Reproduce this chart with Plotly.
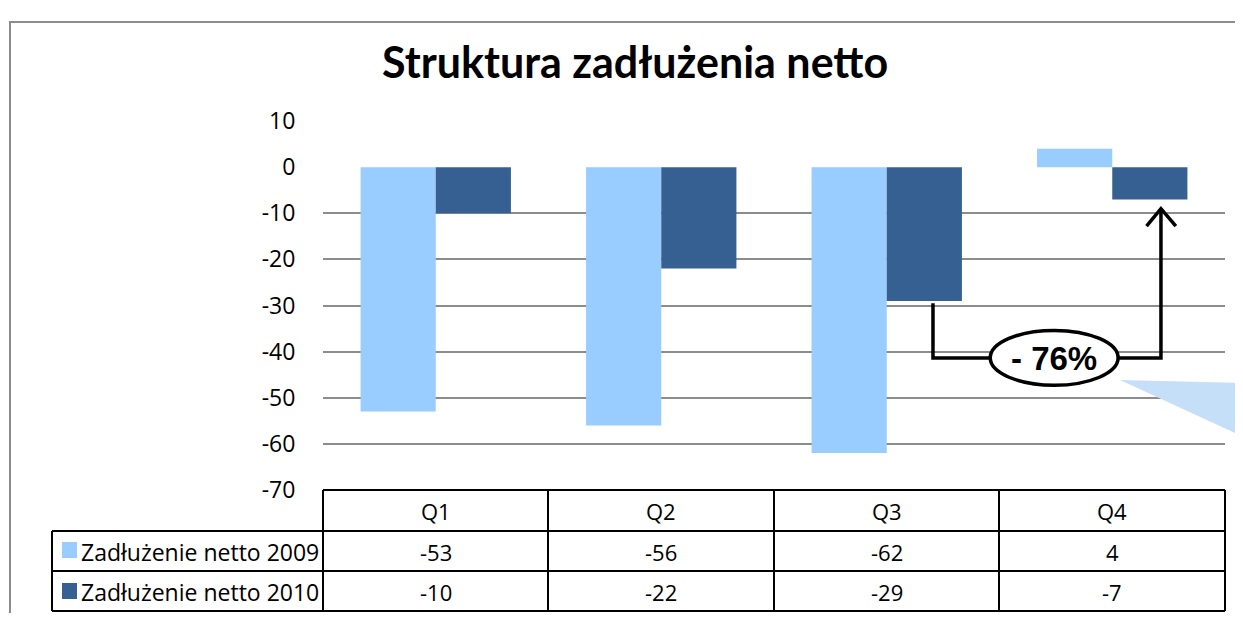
import plotly.graph_objects as go

categories = ["Q1", "Q2", "Q3", "Q4"]
v2009 = [-53, -56, -62, 4]
v2010 = [-10, -22, -29, -7]
name2009 = "Zadłużenie netto 2009"
name2010 = "Zadłużenie netto 2010"
ytick_vals = [10, 0, -10, -20, -30, -40, -50, -60, -70]
change_label = "- 76%"
title = "Struktura zadłużenia netto"

OFF = 8  # page body margin
W, H = 1243 - OFF, 621 - 2 * OFF
def px(x):
    return (x - OFF) / W
def py(y):
    return 1 - (y - OFF) / H

c2009 = "#99CCFF"
c2010 = "#376092"
grid = "#8C8C8C"

fig = go.Figure()
fig.add_bar(x=categories, y=v2009, name=name2009, marker_color=c2009, marker_line_width=0)
fig.add_bar(x=categories, y=v2010, name=name2010, marker_color=c2010, marker_line_width=0)

X0, X1 = 323, 1225
Y0, Y1 = 121, 490
fig.update_layout(
    width=W, height=H, autosize=False,
    margin=dict(l=0, r=0, t=0, b=0, pad=0),
    paper_bgcolor="white", plot_bgcolor="white",
    showlegend=False,
    barmode="group", bargap=1/3, bargroupgap=0,
    xaxis=dict(domain=[px(X0), px(X1)], range=[-0.5, 3.5], showticklabels=False,
               showgrid=False, zeroline=False, showline=False, fixedrange=True,
               automargin=False),
    yaxis=dict(domain=[py(Y1), py(Y0)], range=[-70, 10], tickvals=ytick_vals,
               ticktext=[str(v) for v in ytick_vals],
               showgrid=True, gridcolor=grid, gridwidth=2,
               zeroline=True, zerolinecolor="white", zerolinewidth=3,
               ticks="outside", ticklen=22, tickcolor="rgba(0,0,0,0)",
               tickfont=dict(family="Open Sans", size=23, color="black"),
               showline=False, fixedrange=True, automargin=False),
)

shapes = []
# outer frame
shapes.append(dict(type="path", xref="paper", yref="paper",
                   path=f"M {px(10)},{py(640)} L {px(10)},{py(22)} L {px(1260)},{py(22)}",
                   line=dict(color="#8C8C8C", width=2)))

# data table
col_x = [323, 548, 774, 999, 1225]
row_y = [490, 531, 571, 611]
tl = dict(color="black", width=2)
shapes.append(dict(type="line", xref="paper", yref="paper", x0=px(323), x1=px(1225), y0=py(490), y1=py(490), line=tl))
for ry in row_y[1:]:
    shapes.append(dict(type="line", xref="paper", yref="paper", x0=px(52), x1=px(1225), y0=py(ry), y1=py(ry), line=tl))
for cx in col_x:
    shapes.append(dict(type="line", xref="paper", yref="paper", x0=px(cx), x1=px(cx), y0=py(490), y1=py(611), line=tl))
shapes.append(dict(type="line", xref="paper", yref="paper", x0=px(52), x1=px(52), y0=py(531), y1=py(611), line=tl))
# legend keys
for color, yc in [(c2009, 550), (c2010, 591)]:
    shapes.append(dict(type="rect", xref="paper", yref="paper", x0=px(62), x1=px(77),
                       y0=py(yc - 8), y1=py(yc + 8), fillcolor=color, line=dict(width=0)))

# light blue callout wedge
shapes.append(dict(type="path", xref="paper", yref="paper",
                   path=f"M {px(1120)},{py(380)} L {px(1250)},{py(383)} L {px(1250)},{py(440)} Z",
                   fillcolor="#C6DFF8", line=dict(width=0), layer="above"))

# change arrow (Q3 2010 -> Q4 2010)
xa = 2 + 0.205
xb = 3 + 0.216
y_start = v2010[2] - 0.5
y_mid = -41.4
y_tip = v2010[3] - 2.0
shapes.append(dict(type="path", xref="x", yref="y",
                   path=f"M {xa},{y_start} L {xa},{y_mid} L {xb},{y_mid} L {xb},{y_tip - 0.3}",
                   line=dict(color="black", width=3.5)))
shapes.append(dict(type="path", xref="x", yref="y",
                   path=f"M {xb - 0.064},{y_tip - 3.8} L {xb},{y_tip} L {xb + 0.066},{y_tip - 3.8}",
                   line=dict(color="black", width=3.5)))
ex0, ex1 = 2.459, 3.026
shapes.append(dict(type="circle", xref="x", yref="y", x0=ex0, x1=ex1, y0=-47.3, y1=-35.4,
                   fillcolor="white", line=dict(color="black", width=3.5)))
fig.update_layout(shapes=shapes)

ann = []
ann.append(dict(text=f"<b>{title}</b>", xref="paper", yref="paper", x=px(635), y=py(62),
                showarrow=False, font=dict(family="Lato", size=43, color="black"),
                xanchor="center", yanchor="middle"))
ann.append(dict(text=f"<b>{change_label}</b>", xref="x", yref="y", x=(ex0 + ex1) / 2, y=-41.4,
                showarrow=False, font=dict(family="Liberation Sans", size=33, color="black"),
                xanchor="center", yanchor="middle"))
tf = dict(family="Open Sans", size=22, color="black")
for i, cat in enumerate(categories):
    cx = (col_x[i] + col_x[i + 1]) / 2
    ann.append(dict(text=cat, xref="paper", yref="paper", x=px(cx), y=py(511), showarrow=False,
                    font=tf, xanchor="center", yanchor="middle"))
    ann.append(dict(text=str(v2009[i]), xref="paper", yref="paper", x=px(cx), y=py(552), showarrow=False,
                    font=tf, xanchor="center", yanchor="middle"))
    ann.append(dict(text=str(v2010[i]), xref="paper", yref="paper", x=px(cx), y=py(592), showarrow=False,
                    font=tf, xanchor="center", yanchor="middle"))
ann.append(dict(text=name2009, xref="paper", yref="paper", x=px(79), y=py(552), showarrow=False,
                font=dict(family="Open Sans", size=23, color="black"), xanchor="left", yanchor="middle"))
ann.append(dict(text=name2010, xref="paper", yref="paper", x=px(79), y=py(592), showarrow=False,
                font=dict(family="Open Sans", size=23, color="black"), xanchor="left", yanchor="middle"))
fig.update_layout(annotations=ann)

fig.write_html("out.html", config={"displayModeBar": False})
